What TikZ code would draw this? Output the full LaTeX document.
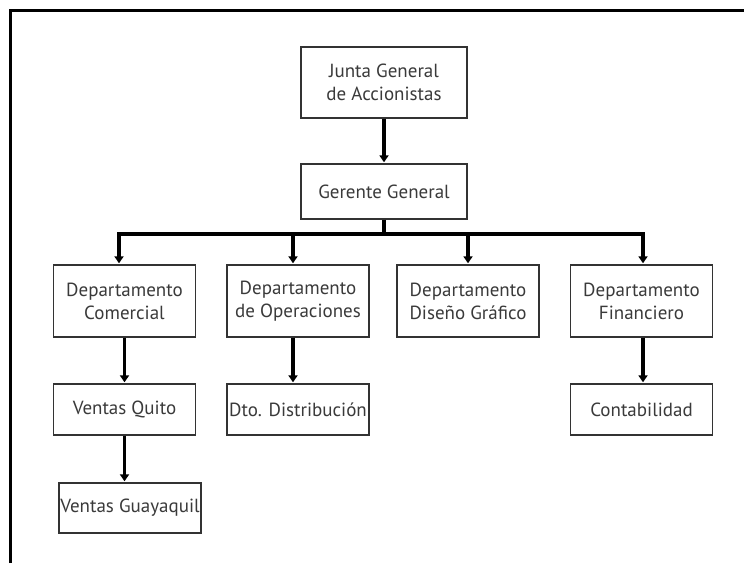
\documentclass[tikz,border=0pt]{standalone}
\usepackage{fontspec}
\setmainfont{PT Sans}
\usetikzlibrary{arrows.meta}
\definecolor{boxc}{HTML}{333333}
\definecolor{txtc}{HTML}{3A3A3A}
\begin{document}
\begin{tikzpicture}[x=1pt,y=-1pt,
  box/.style={draw=boxc, line width=1.4pt, inner sep=0pt, align=center,
    font=\fontsize{19}{23}\selectfont, text=txtc, fill=white},
  dept/.style={box, minimum width=142pt, minimum height=72pt},
  sub/.style={box, minimum width=142pt, minimum height=51pt},
  txt/.style={inner sep=0pt, font=\fontsize{19}{23}\selectfont, text=txtc},
  conn/.style={line width=3.6pt, -{Triangle[width=9pt,length=7pt]}, shorten >=1pt},
  barline/.style={line width=3.6pt}
]
\useasboundingbox (0,0) rectangle (744,563);
\fill[white] (0,0) rectangle (744,563);
% frame
\draw[line width=3pt] (10.5,563) -- (10.5,10.5) -- (744,10.5);

% nodes
\node[box, minimum width=166pt, minimum height=71pt] (jg) at (384,82.5) {Junta General\\de Accionistas};
\node[box, minimum width=166pt, minimum height=55pt] (gg) at (384,191.5) {Gerente General};

\node[dept] (dc) at (124.5,301) {Departamento\\Comercial};
\node[dept] (do) at (298,301) {Departamento\\de Operaciones};
\node[dept] (dd) at (468,301) {Departamento\\Diseño Gráfico};
\node[dept] (df) at (641.5,301) {Departamento\\Financiero};

\node[sub] (vq) at (124.5,409.5) {Ventas Quito};
\node[sub] (dt) at (298,409.5) {Dto. Distribución};
\node[sub] (ct) at (641.5,409.5) {Contabilidad};

\node[sub, minimum height=50pt] (vg) at (130,508) {};
\node[txt] (vgt) at (vg) {Ventas Guayaquil};

% bar coordinates
\coordinate (b0) at (384,234);
\coordinate (b1) at (119,234);
\coordinate (b2) at (293,234);
\coordinate (b3) at (468,234);
\coordinate (b4) at (643,234);

% connectors
\draw[conn] (jg.south) -- (gg.north);
\draw[barline] (gg.south) -- (b0);
\draw[barline] ([xshift=-1.8pt]b1) -- ([xshift=1.8pt]b4);
\draw[conn] ([yshift=-1.8pt]b1) -- (b1 |- dc.north);
\draw[conn] ([yshift=-1.8pt]b2) -- (b2 |- do.north);
\draw[conn] ([yshift=-1.8pt]b3) -- (b3 |- dd.north);
\draw[conn] ([yshift=-1.8pt]b4) -- (b4 |- df.north);

\draw[conn] (dc.south) -- (vq.north);
\draw[conn] ([xshift=-5pt]do.south) -- ([xshift=-5pt]dt.north);
\draw[conn] ([xshift=1.5pt]df.south) -- ([xshift=1.5pt]ct.north);
\draw[conn] (vq.south) -- (vq.south |- vg.north);
\end{tikzpicture}
\end{document}
